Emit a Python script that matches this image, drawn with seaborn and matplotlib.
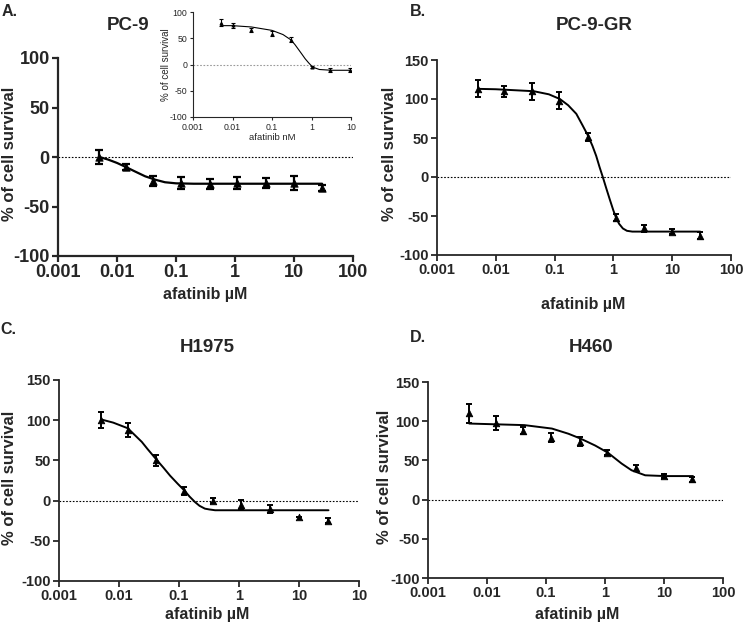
import numpy as np
import pandas as pd
import matplotlib
matplotlib.use('Agg')
import matplotlib.pyplot as plt
import seaborn as sns

sns.set_style('ticks')
plt.rcParams['font.family'] = ['Liberation Sans', 'DejaVu Sans']

# ---------------------------------------------------------------------------
# data (afatinib dose in uM, % of cell survival)
# ---------------------------------------------------------------------------
dose = [0.005, 0.014, 0.041, 0.12, 0.37, 1.1, 3.3, 10, 30]

pc9_mean = [0, -10, -24, -26, -27, -26, -26, -26, -31]
pc9_err = [7, 3, 5, 6, 5, 6, 5, 7, 3]
pc9_fit_x = [0.005, 0.007, 0.01, 0.014, 0.02, 0.03, 0.045, 0.065, 0.1, 0.2, 30]
pc9_fit_y = [0, -2.5, -6, -10, -14.5, -19.5, -23, -25.5, -26.6, -27, -27]

# inset (nM)
ins_dose = [0.005, 0.01, 0.03, 0.1, 0.3, 1, 3, 9.3]
ins_mean = [80, 75, 66, 59, 47, -4, -11, -11]
ins_err = [7, 5, 4, 4, 5, 2, 4, 4]
ins_fit_x = [0.005, 0.01, 0.03, 0.1, 0.19, 0.3, 0.38, 0.47, 0.58, 0.69, 0.85,
             1.07, 1.58, 3.2, 9.3]
ins_fit_y = [74, 74, 71.5, 65, 57, 47, 38, 28.5, 19, 11, 3, -5, -9.5, -11, -11]

gr_mean = [113, 110, 110, 98, 51, -52, -66, -70, -75]
gr_err = [11, 7, 11, 11, 5, 5, 4, 3, 4]
gr_fit_x = [0.005, 0.01, 0.044, 0.08, 0.123, 0.17, 0.234, 0.3, 0.37, 0.44, 0.51,
            0.58, 0.66, 0.76, 0.87, 1.0, 1.12, 1.25, 1.45, 1.7, 2.1, 30]
gr_fit_y = [113, 112.5, 110, 106, 100, 92, 81, 66, 53, 40, 27,
            13, 0, -15, -29, -43, -53, -60, -66, -69, -70, -70]

h1975_mean = [100, 88, 50, 12, 0, -5, -10, -20, -25]
h1975_err = [10, 9, 7, 5, 3, 6, 5, 0, 3]
h1975_fit_x = [0.005, 0.008, 0.014, 0.024, 0.03, 0.041, 0.055, 0.071, 0.095,
               0.123, 0.15, 0.186, 0.22, 0.27, 0.32, 0.4, 31]
h1975_fit_y = [101, 97, 90, 73, 64, 52, 41, 31, 21, 12.5, 5, -2, -6.5, -10, -11,
               -12, -12]

h460_mean = [110, 98, 88, 79, 74, 60, 40, 30, 26]
h460_err = [12, 9, 4, 6, 6, 3, 4, 3, 3]
h460_fit_x = [0.005, 0.0145, 0.043, 0.126, 0.24, 0.38, 0.68, 1.11, 1.91, 2.82,
              4.8, 10.5, 31]
h460_fit_y = [97, 96, 95, 90.6, 84, 78, 69, 60, 46, 37.4, 31, 30, 30]

decades = [0.001, 0.01, 0.1, 1, 10, 100]
decade_labels = ['0.001', '0.01', '0.1', '1', '10', '100']


def draw_panel(ax, x, mean, err, fit_x, fit_y, yticks, xticks, xlabels,
               tick_size, spine_w, lw, ms, cap):
    fit = pd.DataFrame({'x': fit_x, 'y': fit_y})
    pts = pd.DataFrame({'x': x, 'y': mean, 'e': err})
    ax.axhline(0, color='black', ls=(0, (1.5, 1.5)), lw=0.8, zorder=1)
    sns.lineplot(data=fit, x='x', y='y', ax=ax, color='black', lw=lw,
                 zorder=3, sort=False)
    ax.errorbar(pts['x'], pts['y'], yerr=pts['e'], fmt='none', ecolor='black',
                elinewidth=lw, capsize=cap, capthick=lw, zorder=4)
    sns.scatterplot(data=pts, x='x', y='y', ax=ax, marker='^', color='black',
                    s=ms, edgecolor='black', linewidth=0.6, zorder=5)
    ax.set_xscale('log')
    ax.set_xlim(xticks[0], xticks[-1])
    ax.set_ylim(yticks[0], yticks[-1])
    ax.set_xticks(xticks)
    ax.set_xticklabels(xlabels)
    ax.xaxis.set_minor_locator(matplotlib.ticker.NullLocator())
    ax.set_yticks(yticks)
    ax.set_yticklabels([str(v) for v in yticks])
    sns.despine(ax=ax)
    for s in ['left', 'bottom']:
        ax.spines[s].set_linewidth(spine_w)
    ax.tick_params(axis='both', direction='out', length=4, width=spine_w,
                   labelsize=tick_size, pad=2)
    for lab in ax.get_xticklabels() + ax.get_yticklabels():
        lab.set_fontweight('bold')


fig = plt.figure(figsize=(7.5, 6.28), dpi=100)

W, H = 750.0, 628.0


def box(x0, x1, ytop, ybot):
    return [x0 / W, 1 - ybot / H, (x1 - x0) / W, (ybot - ytop) / H]


axA = fig.add_axes(box(58, 353, 58, 256))
axB = fig.add_axes(box(437, 731, 60, 255))
axC = fig.add_axes(box(59, 359, 380, 581))
axD = fig.add_axes(box(428, 723, 382, 578))
axI = fig.add_axes(box(193, 351, 12, 117))

draw_panel(axA, dose, pc9_mean, pc9_err, pc9_fit_x, pc9_fit_y,
           [-100, -50, 0, 50, 100], decades, decade_labels,
           13, 1.6, 1.6, 28, 3)
draw_panel(axB, dose, gr_mean, gr_err, gr_fit_x, gr_fit_y,
           [-100, -50, 0, 50, 100, 150], decades, decade_labels,
           10.5, 1.3, 1.4, 22, 2.5)
draw_panel(axC, dose, h1975_mean, h1975_err, h1975_fit_x, h1975_fit_y,
           [-100, -50, 0, 50, 100, 150], decades,
           ['0.001', '0.01', '0.1', '1', '10', '10'],
           10.5, 1.3, 1.4, 22, 2.5)
draw_panel(axD, dose, h460_mean, h460_err, h460_fit_x, h460_fit_y,
           [-100, -50, 0, 50, 100, 150], decades, decade_labels,
           10.5, 1.3, 1.4, 22, 2.5)

# inset of panel A
draw_panel(axI, ins_dose, ins_mean, ins_err, ins_fit_x, ins_fit_y,
           [-100, -50, 0, 50, 100], [0.001, 0.01, 0.1, 1, 10],
           ['0.001', '0.01', '0.1', '1', '10'],
           6.3, 0.8, 0.8, 5, 1.2)
for lab in axI.get_xticklabels() + axI.get_yticklabels():
    lab.set_fontweight('normal')
axI.tick_params(length=2.5, pad=1.5)
axI.lines[0].set_color('0.6')
axI.set_xlabel('afatinib nM', fontsize=6.8)
axI.set_ylabel('% of cell survival', fontsize=7)
axI.xaxis.set_label_coords(0.5, -0.152)
axI.yaxis.set_label_coords(-0.14, 0.495)

# axis labels
for ax, xc, yc, ylx, yly in [(axA, 0.498, -0.157, -0.139, 0.515),
                             (axB, 0.497, -0.215, -0.136, 0.518),
                             (axC, 0.493, -0.129, -0.14, 0.512),
                             (axD, 0.505, -0.148, -0.122, 0.515)]:
    ax.set_xlabel('afatinib µM', fontsize=11.5, fontweight='bold')
    ax.set_ylabel('% of cell survival', fontsize=12, fontweight='bold')
    ax.xaxis.set_label_coords(xc, yc)
    ax.yaxis.set_label_coords(ylx, yly)

# titles and panel letters
for txt, x, y in [('PC-9', 128, 25), ('PC-9-GR', 594, 25),
                  ('H1975', 207, 347), ('H460', 591, 348)]:
    fig.text(x / W, 1 - y / H, txt, ha='center', va='center',
             fontsize=13.5, fontweight='bold')
for txt, x, y in [('A.', 2, 12), ('B.', 410, 12), ('C.', 0, 329), ('D.', 410, 337)]:
    fig.text(x / W, 1 - y / H, txt, ha='left', va='center',
             fontsize=11.5, fontweight='bold')

fig.savefig('out.png', dpi=100)
